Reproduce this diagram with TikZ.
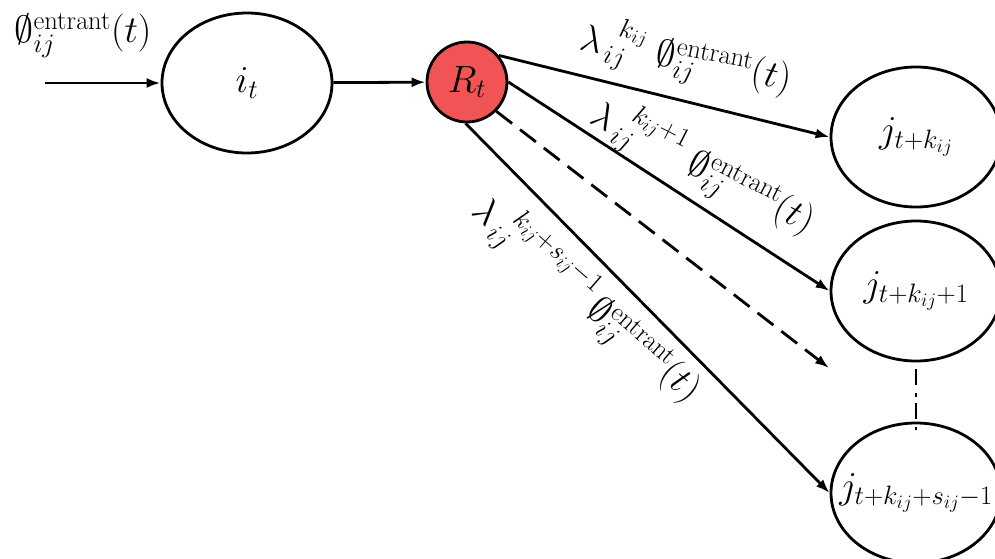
\documentclass[tikz,border=0pt]{standalone}
\usepackage{fix-cm}
\usepackage{amsmath}
\usetikzlibrary{shapes.geometric,arrows.meta}
\definecolor{rnode}{RGB}{240,84,84}
\tikzset{
  ell/.style={draw, line width=2.8pt, ellipse, minimum width=170pt, minimum height=140pt, inner sep=0pt, font=\fontsize{38}{44}\selectfont},
  rcirc/.style={draw, line width=2.8pt, circle, fill=rnode, minimum size=80pt, inner sep=0pt, font=\fontsize{38}{44}\selectfont},
  lab/.style={inner sep=0pt, font=\fontsize{38}{44}\selectfont},
  conn/.style={line width=2.8pt, -{Latex[length=14pt,width=10pt]}},
  dashconn/.style={conn, dash pattern=on 20pt off 10pt},
  dots/.style={line width=2.8pt, dash pattern=on 16pt off 8pt on 4pt off 6pt}
}
\begin{document}
\begin{tikzpicture}[x=1pt,y=-1pt]
\useasboundingbox (0,0) rectangle (995,559);
% nodes
\node[ell] (i) at (247,83) {$i_t$};
\node[rcirc] (R) at (467,82) {$R_t$};
\node[ell] (j1) at (916,137) {$j_{t+k_{ij}}$};
\node[ell] (j2) at (916,291) {$j_{t+k_{ij}+1}$};
\node[ell] (j3) at (916,493) {};
\node[lab] (tj3) at (j3.center) {$j_{t+k_{ij}+s_{ij}-1}$};
\coordinate (src) at (45,83);
\coordinate (dend) at (829,368);
% labels
\node[lab] (lin) at (83,35) {$\emptyset_{ij}^{\mathrm{entrant}}(t)$};
\node[lab, rotate=-11] (l1) at (686,58) {$\lambda_{\,ij}^{\;\;k_{ij}}\ \emptyset_{ij}^{\mathrm{entrant}}(t)$};
\node[lab, rotate=-27] (l2) at (704,167) {$\lambda_{\,ij}^{\;\;k_{ij}+1}\ \emptyset_{ij}^{\mathrm{entrant}}(t)$};
\node[lab, rotate=-41] (l3) at (588,299) {$\lambda_{\,ij}^{\;\;k_{ij}+s_{ij}-1}\,\emptyset_{ij}^{\mathrm{entrant}}(t)$};
% connectors
\draw[conn] (src) -- (i.west);
\draw[conn] (i) -- (R);
\draw[conn] (R.40) -- (j1.west);
\draw[conn] (R.0) -- (j2.west);
\draw[dashconn] (R.-45) -- (dend);
\draw[conn] (R.-92) -- (j3.west);
\draw[dots] ([yshift=-7pt]j2.south) -- ([yshift=-8pt]j3.north);
\end{tikzpicture}
\end{document}
